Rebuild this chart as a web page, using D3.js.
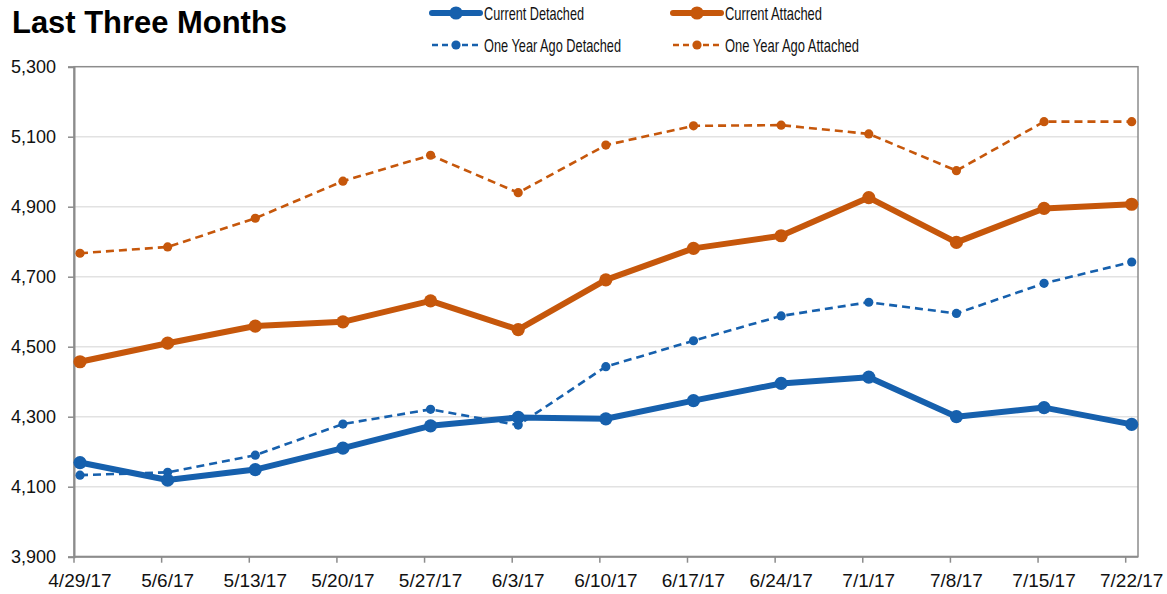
<!DOCTYPE html>
<html>
<head>
<meta charset="utf-8">
<script src="https://cdn.jsdelivr.net/npm/d3@7"></script>
<style>
  html, body { margin: 0; padding: 0; background: #fff; }
  svg { display: block; font-family: "Liberation Sans", Arial, sans-serif; }
</style>
</head>
<body>
<div id="chart"></div>
<script>
const dates = ["4/29/17", "5/6/17", "5/13/17", "5/20/17", "5/27/17", "6/3/17", "6/10/17",
  "6/17/17", "6/24/17", "7/1/17", "7/8/17", "7/15/17", "7/22/17"];

const currentDetached = [4169, 4119, 4149, 4210, 4274, 4298, 4294, 4346, 4395, 4413, 4300, 4326, 4278];
const currentAttached = [4457, 4510, 4559, 4571, 4631, 4549, 4691, 4781, 4817, 4926, 4798, 4895, 4907];
const yearAgoDetached = [4133, 4141, 4190, 4279, 4321, 4276, 4443, 4517, 4588, 4627, 4595, 4681, 4742];
const yearAgoAttached = [4767, 4785, 4867, 4973, 5047, 4940, 5076, 5131, 5133, 5108, 5003, 5143, 5143];

const yTicks = [3900, 4100, 4300, 4500, 4700, 4900, 5100, 5300];

const blue = "#1660ad", orange = "#c6570b";

// dashed ones first so the current lines sit on top
const series = [
  {name: "One Year Ago Detached", values: yearAgoDetached, color: blue, dashed: true},
  {name: "One Year Ago Attached", values: yearAgoAttached, color: orange, dashed: true},
  {name: "Current Detached", values: currentDetached, color: blue, dashed: false},
  {name: "Current Attached", values: currentAttached, color: orange, dashed: false}
];

const width = 1167, height = 594;
const plot = {left: 74, right: 1138, top: 66.7, bottom: 556.7};

const svg = d3.select("#chart").append("svg")
  .attr("width", width)
  .attr("height", height);

const x = d3.scalePoint().domain(dates).range([80, 1131.7]);
const y = d3.scaleLinear().domain([3900, 5300]).range([plot.bottom, plot.top]);

// title
svg.append("text")
  .attr("x", 12).attr("y", 33)
  .attr("font-size", 32).attr("font-weight", "bold")
  .attr("textLength", 275).attr("lengthAdjust", "spacingAndGlyphs")
  .attr("fill", "#000")
  .text("Last Three Months");

// gridlines
svg.append("g").selectAll("line")
  .data(yTicks.filter(t => t > 3900 && t < 5300))
  .join("line")
  .attr("x1", plot.left).attr("x2", plot.right)
  .attr("y1", d => y(d)).attr("y2", d => y(d))
  .attr("stroke", "#e2e2e2").attr("stroke-width", 1.5);

// frame
svg.append("rect")
  .attr("x", plot.left).attr("y", plot.top)
  .attr("width", plot.right - plot.left).attr("height", plot.bottom - plot.top)
  .attr("fill", "none").attr("stroke", "#8c8c8c").attr("stroke-width", 1.5);

// y axis
const yAxis = svg.append("g")
  .attr("transform", `translate(${plot.left},0)`)
  .call(d3.axisLeft(y).tickValues(yTicks).tickFormat(d3.format(",")).tickSize(6).tickPadding(12));
yAxis.select(".domain").attr("stroke", "#8c8c8c").attr("stroke-width", 2);
yAxis.selectAll(".tick line").attr("stroke", "#8c8c8c").attr("stroke-width", 1.5);
yAxis.selectAll(".tick text").attr("font-size", 18).attr("fill", "#111")
  .attr("font-family", "'Liberation Sans', Arial, sans-serif");

// x axis: ticks sit a little left of the points, labels centred on points
const xAxis = svg.append("g").attr("transform", `translate(0,${plot.bottom})`);
xAxis.append("line")
  .attr("x1", plot.left).attr("x2", plot.right)
  .attr("stroke", "#8c8c8c").attr("stroke-width", 2);
xAxis.selectAll("line.tick")
  .data(dates)
  .join("line")
  .attr("class", "tick")
  .attr("x1", d => x(d) - 6).attr("x2", d => x(d) - 6)
  .attr("y1", 0).attr("y2", 6)
  .attr("stroke", "#8c8c8c").attr("stroke-width", 1.5);
xAxis.selectAll("text")
  .data(dates)
  .join("text")
  .attr("x", d => x(d)).attr("y", 30)
  .attr("text-anchor", "middle")
  .attr("font-size", 19).attr("fill", "#111")
  .text(d => d);

// lines + markers
const line = d3.line().x((d, i) => x(dates[i])).y(d => y(d));

const g = svg.selectAll("g.series")
  .data(series)
  .join("g")
  .attr("class", "series");

g.append("path")
  .attr("d", d => line(d.values))
  .attr("fill", "none")
  .attr("stroke", d => d.color)
  .attr("stroke-width", d => d.dashed ? 2.6 : 6)
  .attr("stroke-dasharray", d => d.dashed ? "8,5" : null)
  .attr("stroke-linejoin", "round");

g.selectAll("circle")
  .data(d => d.values.map((v, i) => ({v, i, s: d})))
  .join("circle")
  .attr("cx", d => x(dates[d.i]))
  .attr("cy", d => y(d.v))
  .attr("r", d => d.s.dashed ? 4.6 : 6.6)
  .attr("fill", d => d.s.color);

// legend
const legendItems = [
  {name: "Current Detached", color: blue, dashed: false, x: 432, y: 13, w: 100},
  {name: "Current Attached", color: orange, dashed: false, x: 673, y: 13, w: 97},
  {name: "One Year Ago Detached", color: blue, dashed: true, x: 432, y: 45, w: 137},
  {name: "One Year Ago Attached", color: orange, dashed: true, x: 673, y: 45, w: 134}
];

const lg = svg.append("g").selectAll("g")
  .data(legendItems)
  .join("g")
  .attr("transform", d => `translate(${d.x},${d.y})`);

lg.append("line")
  .attr("x1", 0).attr("x2", 48)
  .attr("stroke", d => d.color)
  .attr("stroke-width", d => d.dashed ? 2.6 : 6)
  .attr("stroke-dasharray", d => d.dashed ? "6,4" : null)
  .attr("stroke-linecap", d => d.dashed ? "butt" : "round");

lg.append("circle")
  .attr("cx", 24)
  .attr("r", d => d.dashed ? 4.6 : 6.6)
  .attr("fill", d => d.color);

lg.append("text")
  .attr("x", 52).attr("y", 6.5)
  .attr("font-size", 19).attr("fill", "#111")
  .attr("textLength", d => d.w).attr("lengthAdjust", "spacingAndGlyphs")
  .text(d => d.name);
</script>
</body>
</html>
